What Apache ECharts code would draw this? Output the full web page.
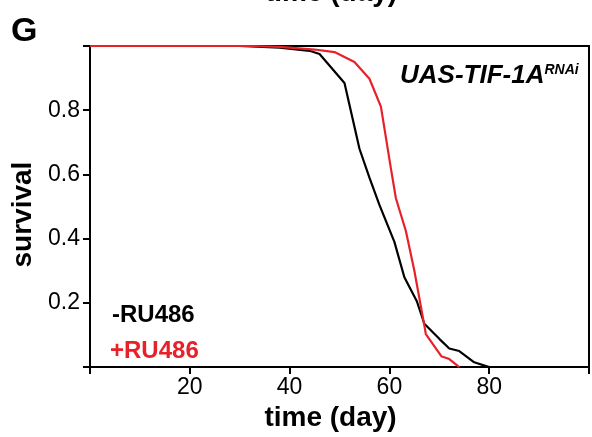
<!DOCTYPE html>
<html>
<head>
<meta charset="utf-8">
<script src="https://cdn.jsdelivr.net/npm/echarts@6/dist/echarts.min.js"></script>
<style>
  html, body { margin: 0; padding: 0; background: #fff; }
  #chart { width: 592px; height: 437px; }
</style>
</head>
<body>
<div id="chart"></div>
<script>
// survival curves, [day, fraction alive]
const minusRU486 = [
  [0, 1], [30, 1], [38, 0.995], [44, 0.985], [46, 0.975], [51, 0.885],
  [54, 0.68], [56, 0.59], [58, 0.505], [61, 0.39], [63, 0.28], [65.5, 0.205],
  [67, 0.135], [70, 0.088], [72, 0.058], [74, 0.05], [77, 0.015], [80, 0]
];
const plusRU486 = [
  [0, 1], [32, 1], [38, 0.997], [45, 0.989], [49, 0.981], [53, 0.95],
  [56, 0.898], [58.3, 0.811], [60.3, 0.619], [61.3, 0.526], [63.3, 0.424],
  [65, 0.3], [67, 0.13], [67.3, 0.103], [70.4, 0.034], [72, 0.025], [74, 0]
];
const xLabels = [20, 40, 60, 80];
const yLabels = [0.2, 0.4, 0.6, 0.8];

const font = "'Liberation Sans', Arial, sans-serif";
const red = "#e8202a";

const chart = echarts.init(document.getElementById("chart"));
chart.setOption({
  animation: false,
  grid: {
    left: 90,
    right: 3,
    top: 46,
    bottom: 67,
    show: true,
    borderColor: "#000",
    borderWidth: 2,
  },
  xAxis: {
    type: "value",
    min: 0,
    max: 100,
    interval: 20,
    name: "time (day)",
    nameLocation: "middle",
    nameGap: 33,
    // shift the title a little left of the grid centre
    nameTextStyle: { fontFamily: font, fontSize: 28, fontWeight: "bold", color: "#000", padding: [0, 18, 0, 0] },
    axisLine: { lineStyle: { color: "#000", width: 2 } },
    axisTick: { length: 7, lineStyle: { color: "#000", width: 2 } },
    axisLabel: {
      fontFamily: font,
      fontSize: 23,
      color: "#000",
      margin: 9,
      formatter: (v) => (xLabels.indexOf(v) >= 0 ? String(v) : ""),
    },
    splitLine: { show: false },
  },
  yAxis: {
    type: "value",
    min: 0,
    max: 1,
    interval: 0.2,
    name: "survival",
    nameLocation: "middle",
    nameGap: 52,
    nameTextStyle: { fontFamily: font, fontSize: 28, fontWeight: "bold", color: "#000", padding: [0, 16, 0, 0] },
    axisLine: { lineStyle: { color: "#000", width: 2 } },
    axisTick: { length: 7, lineStyle: { color: "#000", width: 2 } },
    axisLabel: {
      fontFamily: font,
      fontSize: 23,
      color: "#000",
      margin: 10,
      formatter: (v) => {
        const r = Math.round(v * 10) / 10;
        return yLabels.indexOf(r) >= 0 ? r.toFixed(1) : "";
      },
    },
    splitLine: { show: false },
  },
  series: [
    {
      name: "+RU486",
      type: "line",
      data: plusRU486,
      showSymbol: false,
      lineStyle: { color: red, width: 2.2 },
      z: 3,
    },
    {
      name: "-RU486",
      type: "line",
      data: minusRU486,
      showSymbol: false,
      lineStyle: { color: "#000", width: 2.2 },
      z: 2,
    },
  ],
  graphic: [
    {
      type: "text",
      left: 11,
      top: 15,
      style: { text: "G", font: "bold 34px " + font, fill: "#000" },
    },
    {
      // title of the panel above, cut off by the page edge
      type: "text",
      x: 331,
      y: 7,
      style: {
        text: "time (day)",
        font: "bold 28px " + font,
        fill: "#000",
        align: "center",
        verticalAlign: "bottom",
      },
    },
    {
      type: "text",
      x: 400,
      y: 63,
      style: {
        text: "{m|UAS-TIF-1A}{s|RNAi}",
        rich: {
          m: { font: "italic bold 26px " + font, fill: "#000", verticalAlign: "bottom" },
          s: { font: "italic bold 14px " + font, fill: "#000", verticalAlign: "top", padding: [0, 0, 12, 0] },
        },
      },
    },
    {
      type: "text",
      x: 112,
      y: 303,
      style: { text: "-RU486", font: "bold 24px " + font, fill: "#000" },
    },
    {
      type: "text",
      x: 110,
      y: 339,
      style: { text: "+RU486", font: "bold 24px " + font, fill: red },
    },
  ],
});
</script>
</body>
</html>
